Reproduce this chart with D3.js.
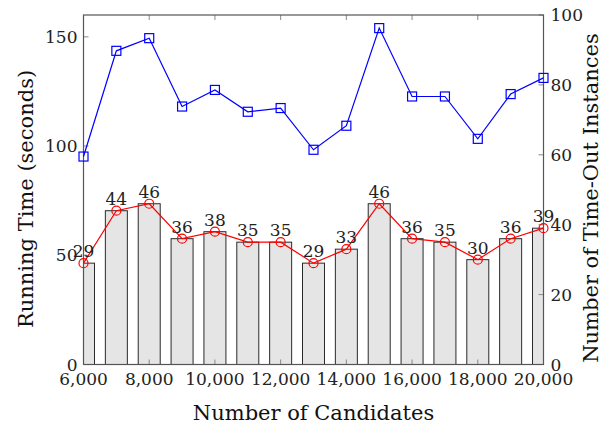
<!DOCTYPE html>
<html>
<head>
<meta charset="utf-8">
<script src="https://cdn.jsdelivr.net/npm/d3@7"></script>
<style>
  body { margin: 0; background: #fff; }
</style>
</head>
<body>
<div id="chart"></div>
<script>
// Data
const candidates = [6000, 7000, 8000, 9000, 10000, 11000, 12000, 13000, 14000, 15000, 16000, 17000, 18000, 19000, 20000];
const runningTime = [95.2, 143.6, 149.4, 118.1, 125.7, 115.7, 117.4, 98.3, 109.3, 154.0, 122.7, 122.7, 103.3, 123.8, 131.2];
const timeOuts = [29, 44, 46, 36, 38, 35, 35, 29, 33, 46, 36, 35, 30, 36, 39];
const xTicks = [6000, 8000, 10000, 12000, 14000, 16000, 18000, 20000];
const leftTicks = [0, 50, 100, 150];
const rightTicks = [0, 20, 40, 60, 80, 100];

const W = 611, H = 427;
const plot = { left: 83.5, right: 543.5, top: 15, bottom: 364.5 };
const FONT = "'DejaVu Serif', serif";

const svg = d3.select('#chart').append('svg')
    .attr('width', W)
    .attr('height', H)
    .style('font-family', FONT);

const x = d3.scaleLinear().domain([6000, 20000]).range([plot.left, plot.right]);
const yLeft = d3.scaleLinear().domain([0, 160]).range([plot.bottom, plot.top]);
const yRight = d3.scaleLinear().domain([0, 100]).range([plot.bottom, plot.top]);

svg.append('defs').append('clipPath')
    .attr('id', 'plot-clip')
    .append('rect')
    .attr('x', plot.left)
    .attr('y', plot.top)
    .attr('width', plot.right - plot.left)
    .attr('height', plot.bottom - plot.top);

// Bars (time-out instances), clipped at the frame like the original
const barW = 22;
svg.append('g')
    .attr('clip-path', 'url(#plot-clip)')
    .selectAll('rect')
    .data(candidates)
    .join('rect')
    .attr('x', (d) => x(d) - barW / 2)
    .attr('y', (d, i) => yRight(timeOuts[i]))
    .attr('width', barW)
    .attr('height', (d, i) => yRight(0) - yRight(timeOuts[i]))
    .attr('fill', '#e5e5e5')
    .attr('stroke', '#2a2a2a')
    .attr('stroke-width', 1);

// Tick marks (inside the frame)
const tickLen = 5;
const ticks = svg.append('g').attr('stroke', '#888').attr('stroke-width', 1);
xTicks.forEach(t => {
    ticks.append('line').attr('x1', x(t)).attr('x2', x(t))
        .attr('y1', plot.top).attr('y2', plot.top + tickLen);
    ticks.append('line').attr('x1', x(t)).attr('x2', x(t))
        .attr('y1', plot.bottom).attr('y2', plot.bottom - tickLen);
});
leftTicks.forEach(t => {
    ticks.append('line').attr('x1', plot.left).attr('x2', plot.left + tickLen)
        .attr('y1', yLeft(t)).attr('y2', yLeft(t));
});
rightTicks.forEach(t => {
    ticks.append('line').attr('x1', plot.right).attr('x2', plot.right - tickLen)
        .attr('y1', yRight(t)).attr('y2', yRight(t));
});

// Frame
svg.append('rect')
    .attr('x', plot.left)
    .attr('y', plot.top)
    .attr('width', plot.right - plot.left)
    .attr('height', plot.bottom - plot.top)
    .attr('fill', 'none')
    .attr('stroke', '#555')
    .attr('stroke-width', 1.2);

// Red line with circles (time-outs)
const redLine = d3.line()
    .x((d, i) => x(candidates[i]))
    .y(d => yRight(d));

svg.append('path')
    .datum(timeOuts)
    .attr('d', redLine)
    .attr('fill', 'none')
    .attr('stroke', '#ff0000')
    .attr('stroke-width', 1.2);

svg.append('g')
    .selectAll('circle')
    .data(timeOuts)
    .join('circle')
    .attr('cx', (d, i) => x(candidates[i]))
    .attr('cy', d => yRight(d))
    .attr('r', 4.5)
    .attr('fill', 'none')
    .attr('stroke', '#ff0000')
    .attr('stroke-width', 1.2);

// Bar value labels
svg.append('g')
    .selectAll('text')
    .data(timeOuts)
    .join('text')
    .attr('x', (d, i) => x(candidates[i]))
    .attr('y', d => yRight(d) - 6)
    .attr('text-anchor', 'middle')
    .attr('fill', '#222')
    .style('font-size', '17px')
    .text(d => d);

// Blue line with squares (running time)
const blueLine = d3.line()
    .x((d, i) => x(candidates[i]))
    .y(d => yLeft(d));

svg.append('path')
    .datum(runningTime)
    .attr('d', blueLine)
    .attr('fill', 'none')
    .attr('stroke', '#0000ff')
    .attr('stroke-width', 1.2);

const sq = 9;
svg.append('g')
    .selectAll('rect')
    .data(runningTime)
    .join('rect')
    .attr('x', (d, i) => x(candidates[i]) - sq / 2)
    .attr('y', d => yLeft(d) - sq / 2)
    .attr('width', sq)
    .attr('height', sq)
    .attr('fill', 'none')
    .attr('stroke', '#0000ff')
    .attr('stroke-width', 1.2);

// Tick labels
svg.append('g')
    .selectAll('text')
    .data(xTicks)
    .join('text')
    .attr('x', d => x(d))
    .attr('y', 385)
    .attr('text-anchor', 'middle')
    .attr('fill', '#222')
    .style('font-size', '17px')
    .text(d => d3.format(',')(d));

svg.append('g')
    .selectAll('text')
    .data(leftTicks)
    .join('text')
    .attr('x', plot.left - 6)
    .attr('y', d => yLeft(d) + 6)
    .attr('text-anchor', 'end')
    .attr('fill', '#222')
    .style('font-size', '17px')
    .text(d => d);

svg.append('g')
    .selectAll('text')
    .data(rightTicks)
    .join('text')
    .attr('x', plot.right + 7)
    .attr('y', d => yRight(d) + 6)
    .attr('text-anchor', 'start')
    .attr('fill', '#222')
    .style('font-size', '17px')
    .text(d => d);

// Axis titles
svg.append('text')
    .attr('x', (plot.left + plot.right) / 2)
    .attr('y', 420)
    .attr('text-anchor', 'middle')
    .attr('fill', '#111')
    .style('font-size', '21px')
    .text('Number of Candidates');

svg.append('text')
    .attr('transform', 'translate(33,199) rotate(-90)')
    .attr('text-anchor', 'middle')
    .attr('fill', '#111')
    .style('font-size', '21px')
    .text('Running Time (seconds)');

svg.append('text')
    .attr('transform', 'translate(598,198) rotate(-90)')
    .attr('text-anchor', 'middle')
    .attr('fill', '#111')
    .style('font-size', '21px')
    .text('Number of Time-Out Instances');
</script>
</body>
</html>
